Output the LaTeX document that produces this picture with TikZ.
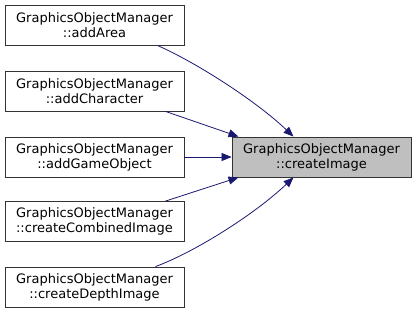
\documentclass[tikz,border=0pt]{standalone}
\usepackage{fontspec}
\setmainfont{DejaVu Sans}
\usetikzlibrary{arrows.meta}
\definecolor{edgecol}{HTML}{191970}
\definecolor{rootfill}{HTML}{BFBFBF}
\tikzset{
  fn/.style={draw=black!80, line width=0.8bp, fill=white, minimum width=179bp,
    minimum height=40bp, inner sep=0pt, align=center, font=\fontsize{13bp}{15bp}\selectfont},
  root/.style={fn, fill=rootfill},
  call/.style={draw=edgecol, line width=0.8bp, -{Triangle[length=10bp,width=8bp]}}
}
\begin{document}
\begin{tikzpicture}[x=1bp,y=-1bp]
\useasboundingbox (0,0) rectangle (416,313);
\node[fn] (a) at (94.5,25.5) {GraphicsObjectManager\\::addArea};
\node[fn] (b) at (94.5,91) {GraphicsObjectManager\\::addCharacter};
\node[fn] (c) at (94.5,157) {GraphicsObjectManager\\::addGameObject};
\node[fn] (d) at (94.5,221.5) {GraphicsObjectManager\\::createCombinedImage};
\node[fn] (e) at (94.5,287) {GraphicsObjectManager\\::createDepthImage};
\node[root] (t) at (321.5,157) {GraphicsObjectManager\\::createImage};
\draw[call] (a.south east) ++(-26,0) coordinate (a1)
  (a1) .. controls (195,62) and (255,100) .. ([xshift=-28bp]t.north);
\draw[call] ([xshift=-19bp]b.south east) -- ([xshift=-83bp]t.north);
\draw[call] (c.east) -- (t.west);
\draw[call] ([xshift=-19bp]d.north east) -- ([xshift=-83bp]t.south);
\draw[call] ([xshift=-29bp]e.north east) .. controls (195,252) and (255,214) .. ([xshift=-28bp]t.south);
\end{tikzpicture}
\end{document}
